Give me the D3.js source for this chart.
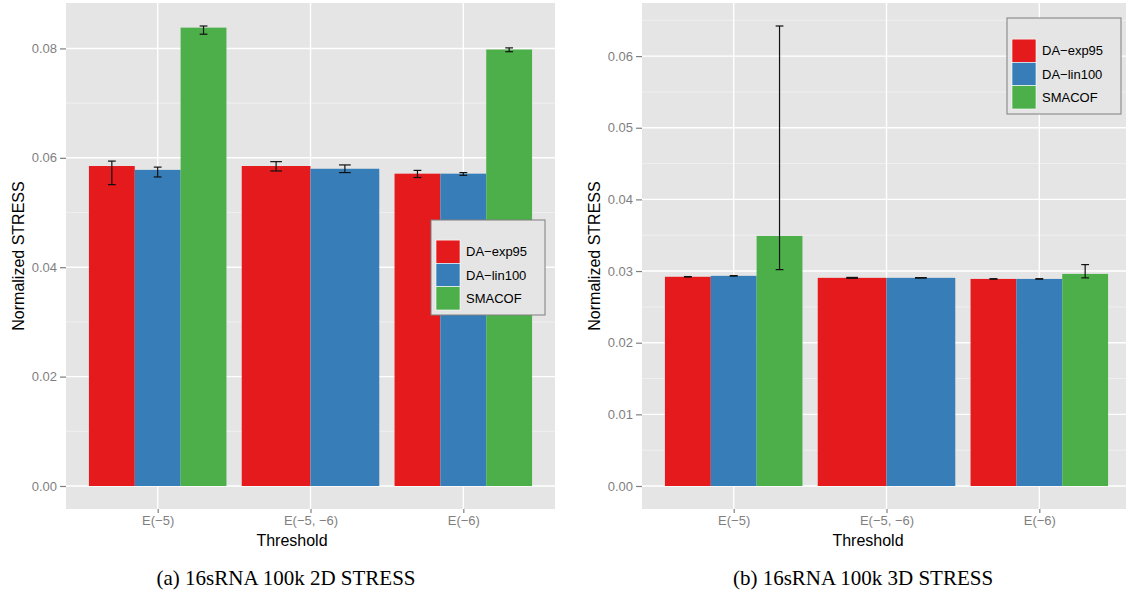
<!DOCTYPE html>
<html>
<head>
<meta charset="utf-8">
<script src="https://cdn.jsdelivr.net/npm/d3@7"></script>
<style>
  html, body { margin: 0; padding: 0; background: #ffffff; }
  svg { display: block; }
</style>
</head>
<body>
<svg id="fig" width="1126" height="598"></svg>
<script>
// Threshold groups and algorithms
const categories = ["E(\u22125)", "E(\u22125, \u22126)", "E(\u22126)"];
const seriesNames = ["DA\u2212exp95", "DA\u2212lin100", "SMACOF"];
const seriesColors = ["#E41A1C", "#377EB8", "#4DAF4A"];

// 2D STRESS: mean value and error bar ends (null = not run)
const stress2dExp95 = [0.0585, 0.0585, 0.0571];
const stress2dExp95Lo = [0.0551, 0.0576, 0.0564];
const stress2dExp95Hi = [0.0594, 0.0593, 0.0577];
const stress2dLin100 = [0.0578, 0.0580, 0.0571];
const stress2dLin100Lo = [0.0565, 0.0573, 0.0568];
const stress2dLin100Hi = [0.0583, 0.0587, 0.0573];
const stress2dSmacof = [0.0838, null, 0.0798];
const stress2dSmacofLo = [0.0826, null, 0.0794];
const stress2dSmacofHi = [0.0841, null, 0.0801];

// 3D STRESS
const stress3dExp95 = [0.02920, 0.02905, 0.02890];
const stress3dExp95Lo = [0.02917, 0.02899, 0.02887];
const stress3dExp95Hi = [0.02923, 0.02911, 0.02893];
const stress3dLin100 = [0.02933, 0.02905, 0.02890];
const stress3dLin100Lo = [0.02930, 0.02902, 0.02887];
const stress3dLin100Hi = [0.02936, 0.02908, 0.02893];
const stress3dSmacof = [0.0349, null, 0.0296];
const stress3dSmacofLo = [0.0302, null, 0.02905];
const stress3dSmacofHi = [0.0642, null, 0.0309];

// Axis ticks
const ticks2d = [0.00, 0.02, 0.04, 0.06, 0.08];
const ticks3d = [0.00, 0.01, 0.02, 0.03, 0.04, 0.05, 0.06];

const panels = [
  {
    caption: "(a) 16sRNA 100k 2D STRESS",
    left: 66, right: 555, top: 3, bottom: 509,
    ticks: ticks2d,
    values: [stress2dExp95, stress2dLin100, stress2dSmacof],
    lows: [stress2dExp95Lo, stress2dLin100Lo, stress2dSmacofLo],
    highs: [stress2dExp95Hi, stress2dLin100Hi, stress2dSmacofHi],
    yTitleX: 18, xTitleX: 292, captionX: 286,
    legend: { x: 431, y: 220, w: 114, h: 95 }
  },
  {
    caption: "(b) 16sRNA 100k 3D STRESS",
    left: 642, right: 1131, top: 3, bottom: 509,
    ticks: ticks3d,
    values: [stress3dExp95, stress3dLin100, stress3dSmacof],
    lows: [stress3dExp95Lo, stress3dLin100Lo, stress3dSmacofLo],
    highs: [stress3dExp95Hi, stress3dLin100Hi, stress3dSmacofHi],
    yTitleX: 594, xTitleX: 868, captionX: 863,
    legend: { x: 1007, y: 18, w: 114, h: 96 }
  }
];

const svg = d3.select("#fig");
const sansFont = "'Liberation Sans', Arial, Helvetica, sans-serif";
const grey50 = "#7f7f7f";

panels.forEach((p, pi) => {
  const g = svg.append("g");
  const clipId = "clip" + pi;
  svg.append("defs").append("clipPath").attr("id", clipId)
    .append("rect").attr("x", p.left).attr("y", p.top)
    .attr("width", p.right - p.left).attr("height", p.bottom - p.top);

  // y range with 5% expansion, always including zero
  let lo = 0, hi = 0;
  p.values.forEach((s, si) => s.forEach((v, ci) => {
    if (v === null) return;
    lo = Math.min(lo, p.lows[si][ci]);
    hi = Math.max(hi, p.highs[si][ci], v);
  }));
  const pad = (hi - lo) * 0.05;
  const y = d3.scaleLinear().domain([lo - pad, hi + pad]).range([p.bottom, p.top]);
  const x = d3.scalePoint().domain(categories).range([p.left, p.right]).padding(0.6);
  const step = x.step();

  // panel background
  g.append("rect").attr("x", p.left).attr("y", p.top)
    .attr("width", p.right - p.left).attr("height", p.bottom - p.top)
    .attr("fill", "#e5e5e5");

  const grid = g.append("g").attr("clip-path", `url(#${clipId})`);
  // minor grid lines half way between major ticks
  const tStep = p.ticks[1] - p.ticks[0];
  const minor = [];
  for (let i = -1; i < p.ticks.length + 1; i++) {
    const v = p.ticks[0] + (i + 0.5) * tStep;
    if (v > y.domain()[0] && v < y.domain()[1]) minor.push(v);
  }
  grid.selectAll("line.minor").data(minor).join("line")
    .attr("x1", p.left).attr("x2", p.right)
    .attr("y1", d => y(d)).attr("y2", d => y(d))
    .attr("stroke", "#f2f2f2").attr("stroke-width", 0.8);
  grid.selectAll("line.majorY").data(p.ticks).join("line")
    .attr("x1", p.left).attr("x2", p.right)
    .attr("y1", d => y(d)).attr("y2", d => y(d))
    .attr("stroke", "#ffffff").attr("stroke-width", 1.4);
  grid.selectAll("line.majorX").data(categories).join("line")
    .attr("x1", d => x(d)).attr("x2", d => x(d))
    .attr("y1", p.top).attr("y2", p.bottom)
    .attr("stroke", "#ffffff").attr("stroke-width", 1.4);

  // dodged bars
  const marks = g.append("g").attr("clip-path", `url(#${clipId})`);
  categories.forEach((c, ci) => {
    const present = [];
    p.values.forEach((s, si) => { if (s[ci] !== null) present.push(si); });
    const w = step * 0.9 / present.length;
    const x0 = x(c) - step * 0.45;
    present.forEach((si, k) => {
      const v = p.values[si][ci];
      marks.append("rect")
        .attr("x", x0 + k * w).attr("width", w)
        .attr("y", Math.min(y(v), y(0)))
        .attr("height", Math.abs(y(0) - y(v)))
        .attr("fill", seriesColors[si]);
    });
    present.forEach((si, k) => {
      const cx = x0 + (k + 0.5) * w;
      const cap = w * 0.17;
      const yl = y(p.lows[si][ci]), yh = y(p.highs[si][ci]);
      const eb = marks.append("g").attr("stroke", "#111").attr("stroke-width", 1.2);
      eb.append("line").attr("x1", cx).attr("x2", cx).attr("y1", yl).attr("y2", yh);
      eb.append("line").attr("x1", cx - cap / 2).attr("x2", cx + cap / 2).attr("y1", yl).attr("y2", yl);
      eb.append("line").attr("x1", cx - cap / 2).attr("x2", cx + cap / 2).attr("y1", yh).attr("y2", yh);
    });
  });

  // y axis
  const yAxis = g.append("g").attr("transform", `translate(${p.left},0)`)
    .call(d3.axisLeft(y).tickValues(p.ticks).tickFormat(d3.format(".2f")).tickSize(6).tickPadding(3));
  yAxis.select(".domain").remove();
  yAxis.selectAll(".tick line").attr("stroke", grey50).attr("stroke-width", 1.2);
  yAxis.selectAll(".tick text").attr("fill", grey50)
    .style("font-family", sansFont).style("font-size", "13px");

  // x axis
  const xAxis = g.append("g").attr("transform", `translate(0,${p.bottom})`)
    .call(d3.axisBottom(x).tickSize(4).tickPadding(3));
  xAxis.select(".domain").remove();
  xAxis.selectAll(".tick line").attr("stroke", grey50).attr("stroke-width", 1.2);
  xAxis.selectAll(".tick text").attr("fill", grey50)
    .style("font-family", sansFont).style("font-size", "13px");

  // axis titles
  g.append("text").attr("x", p.xTitleX).attr("y", 546)
    .attr("text-anchor", "middle").attr("fill", "#000")
    .style("font-family", sansFont).style("font-size", "16px")
    .text("Threshold");
  g.append("text")
    .attr("transform", `translate(${p.yTitleX + 6},${(p.top + p.bottom) / 2}) rotate(-90)`)
    .attr("text-anchor", "middle").attr("fill", "#000")
    .style("font-family", sansFont).style("font-size", "16px")
    .text("Normalized STRESS");

  // legend
  const L = p.legend;
  const lg = g.append("g");
  lg.append("rect").attr("x", L.x).attr("y", L.y).attr("width", L.w).attr("height", L.h)
    .attr("fill", "#e5e5e5").attr("stroke", grey50).attr("stroke-width", 1);
  const keyH = 23.3;
  seriesNames.forEach((name, si) => {
    const ky = L.y + L.h - 5 - (3 - si) * keyH;
    lg.append("rect").attr("x", L.x + 5).attr("y", ky)
      .attr("width", 24).attr("height", keyH)
      .attr("fill", seriesColors[si]).attr("stroke", "#ffffff").attr("stroke-width", 0.6);
    lg.append("text").attr("x", L.x + 35).attr("y", ky + keyH / 2)
      .attr("dy", "0.35em").attr("fill", "#000")
      .style("font-family", sansFont).style("font-size", "13px")
      .text(name);
  });

  // subfigure caption
  svg.append("text").attr("x", p.captionX).attr("y", 585)
    .attr("text-anchor", "middle").attr("fill", "#000")
    .style("font-family", "'Liberation Serif', 'Times New Roman', serif")
    .style("font-size", "21px")
    .text(p.caption);
});
</script>
</body>
</html>
